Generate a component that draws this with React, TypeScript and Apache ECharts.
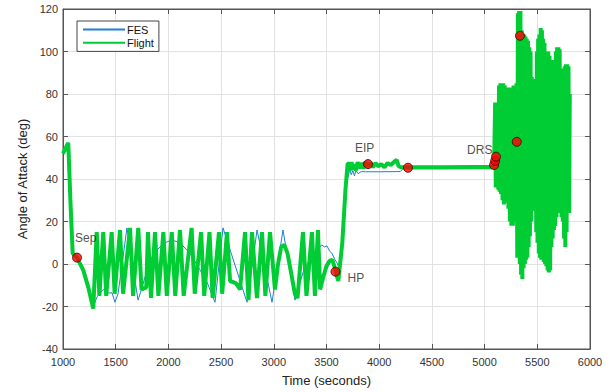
import React, { useEffect, useRef } from "react";
import * as echarts from "echarts";

const xTicks = { min: 1000, max: 6000, interval: 500 };
const yTicks = { min: -40, max: 120, interval: 20 };

const fesData: number[][] = [
  [1000, 52], [1050, 57], [1070, 30], [1092, 5], [1133, 3], [1193, -3], [1240, -11], [1287, -20],
  [1323, -15.5], [1380, -12], [1427, -13.6], [1465, -13.6], [1493, -18], [1522, -14], [1607, 17],
  [1712, -17], [1750, -11], [1797, -3], [1844, 3.3], [1873, 5.6], [1920, 8], [1968, 10], [2034, 11.3],
  [2110, 10], [2205, 5], [2300, -2.8], [2366, -8.5], [2442, -18], [2518, 17], [2746, -18], [2841, 16],
  [2983, -18], [3087, 16], [3201, -17], [3277, -4], [3372, 5], [3457, 9], [3480, 8], [3505, 8.5],
  [3530, 6], [3552, 5], [3580, 2], [3600, 0.5], [3628, -3], [3660, 20], [3690, 44], [3705, 41],
  [3720, 44.5], [3735, 42], [3750, 44], [3765, 41.5], [3780, 44], [3800, 42.5], [3830, 43.5],
  [3870, 43.4], [4000, 43.4], [4200, 43.5], [4225, 44.8], [4600, 44.8], [5070, 44.8], [5090, 46], [5110, 48],
];

const flightData: number[][] = [
  [1000, 52], [1050, 57], [1070, 30], [1092, 5], [1133, 3], [1193, -3], [1240, -11], [1287, -21],
  [1320, 15], [1345, -15], [1382, 15], [1410, -15], [1462, 15], [1490, -14], [1541, 16], [1570, -14],
  [1636, 17], [1665, -15], [1714, 17], [1745, -12], [1790, -11], [1806, 15], [1835, -16], [1873, 15],
  [1905, -15], [1952, 15], [1985, -15], [2032, 15], [2065, -15], [2110, 16], [2145, -15], [2220, 17],
  [2250, -14], [2310, 15], [2340, -15], [2390, 15], [2420, -16], [2480, 15], [2510, -14], [2556, 15],
  [2585, -8], [2640, -9], [2680, -12], [2727, 15], [2760, -17], [2793, 15], [2840, -16], [2888, 15],
  [2920, -15], [2964, 15], [3011, -12], [3040, 0], [3070, 8], [3100, 9], [3130, 5], [3160, -3],
  [3200, -14], [3225, -16], [3277, 15], [3310, -15], [3362, 15], [3390, -15], [3419, 16], [3440, -12],
  [3470, -6], [3500, -1], [3530, 1.5], [3555, 2], [3580, -2], [3600, -6], [3612, -8], [3650, 10],
  [3680, 35], [3700, 47], [3715, 47.5], [3725, 44], [3738, 48], [3750, 44.5], [3765, 47], [3780, 44],
  [3795, 48], [3810, 45], [3830, 47.5], [3850, 45], [3870, 48], [3890, 46], [3915, 47.5], [3940, 45.5],
  [3965, 47.5], [3990, 46], [4020, 47], [4050, 45.5], [4080, 47.5], [4110, 46.5], [4140, 48], [4165, 49],
  [4185, 46], [4210, 45.5], [4300, 45.5], [4600, 45.5], [4900, 45.6], [5070, 45.6], [5090, 46],
  [5095, 46], [5100, 76], [5106, 36], [5112, 76], [5118, 36], [5124, 75], [5130, 35], [5137, 84],
  [5143, 34], [5150, 85], [5156, 33], [5163, 85], [5170, 30], [5177, 85], [5184, 28], [5191, 84],
  [5198, 30], [5205, 83], [5212, 29], [5219, 83], [5226, 26], [5233, 83], [5240, 20], [5247, 83],
  [5254, 18], [5261, 83], [5268, 18], [5275, 84], [5282, 22], [5289, 84], [5296, 20], [5303, 85],
  [5310, 3], [5316, 118], [5322, 3], [5328, 119], [5334, 0], [5340, 119], [5346, -5], [5352, 110],
  [5358, -7], [5364, 108], [5370, -2], [5376, 108], [5382, 0], [5388, 107], [5394, 2], [5400, 106],
  [5406, 3], [5412, 105], [5418, 8], [5424, 102], [5430, 13], [5436, 100], [5442, 20], [5448, 88],
  [5454, 25], [5460, 87], [5466, 25], [5472, 87], [5478, 25], [5484, 87], [5490, 15], [5496, 100],
  [5502, 10], [5508, 106], [5514, 5], [5520, 108], [5526, 3], [5532, 111], [5538, 2], [5544, 110],
  [5550, 3], [5556, 106], [5562, 1], [5568, 104], [5574, 0], [5580, 100], [5586, -1], [5592, 100],
  [5598, -3], [5604, 100], [5610, -4], [5616, 98], [5622, -3], [5628, 96], [5634, 8], [5640, 96],
  [5646, 12], [5652, 96], [5658, 16], [5664, 95], [5670, 18], [5676, 100], [5682, 22], [5688, 102],
  [5694, 24], [5700, 102], [5706, 24], [5712, 101], [5718, 24], [5724, 92], [5730, 22], [5736, 91],
  [5742, 20], [5748, 90], [5754, 12], [5760, 93], [5766, 8], [5772, 94], [5778, 15], [5784, 94],
  [5790, 24], [5796, 93], [5802, 24], [5808, 80],
];

const eventPoints: number[][] = [
  [1133, 3], [3585, -3.6], [3894, 47], [4273, 45.3], [5090, 46.6], [5100, 48.5], [5108, 50.5],
  [5305, 57.5], [5336, 107.4],
];
const eventNames: string[] = ["Sep", "HP", "EIP", "", "DRS", "", "", "", ""];
const labelOffsets: number[][] = [
  [-2, -20], [12, 6], [-13, -16], [0, 0], [-27, -15], [0, 0], [0, 0], [0, 0], [0, 0],
];

const axisColor = "#555";
const textColor = "#333";
const font = "Liberation Sans, Arial, Helvetica, sans-serif";

export default function App() {
  const ref = useRef<HTMLDivElement>(null);
  useEffect(() => {
    if (!ref.current) return;
    const chart = echarts.init(ref.current, undefined, { renderer: "svg" });
    const baseX = {
      type: "value" as const,
      min: xTicks.min,
      max: xTicks.max,
      interval: xTicks.interval,
    };
    const baseY = {
      type: "value" as const,
      min: yTicks.min,
      max: yTicks.max,
      interval: yTicks.interval,
    };
    const line = { show: true, onZero: false, lineStyle: { color: axisColor } };
    const tick = { show: true, inside: true, length: 5, lineStyle: { color: axisColor } };
    chart.setOption({
      animation: false,
      backgroundColor: "#fff",
      textStyle: { fontFamily: font },
      grid: {
        left: 63, right: 21, top: 9, bottom: 43,
        show: true, borderColor: axisColor, borderWidth: 1, backgroundColor: "transparent",
      },
      legend: {
        data: ["FES", "Flight"],
        orient: "vertical",
        left: 77,
        top: 21,
        padding: [3, 5, 3, 5],
        itemGap: 2,
        itemWidth: 42,
        itemHeight: 14,
        borderColor: "#444",
        borderWidth: 1,
        backgroundColor: "#fff",
        selectedMode: false,
        itemStyle: { color: "transparent", borderColor: "transparent", borderWidth: 0, opacity: 0 },
        lineStyle: { opacity: 1 },
        textStyle: { fontSize: 11, color: "#111", fontFamily: font, padding: [0, 0, 0, -3] },
      },
      xAxis: [
        {
          ...baseX,
          position: "bottom",
          name: "Time (seconds)",
          nameLocation: "middle",
          nameGap: 25,
          nameTextStyle: { fontSize: 13, color: "#222", fontFamily: font },
          axisLine: line,
          axisTick: tick,
          axisLabel: {
            fontSize: 11, color: textColor, margin: 7, fontFamily: font,
            formatter: (v: number) => String(v),
          },
          splitLine: { show: true, lineStyle: { color: "#e2e2e2", width: 1 } },
        },
        {
          ...baseX,
          position: "top",
          axisLine: line,
          axisTick: tick,
          axisLabel: { show: false },
          splitLine: { show: false },
        },
      ],
      yAxis: [
        {
          ...baseY,
          position: "left",
          name: "Angle of Attack (deg)",
          nameLocation: "middle",
          nameGap: 31,
          nameTextStyle: { fontSize: 13, color: "#222", fontFamily: font },
          axisLine: line,
          axisTick: tick,
          axisLabel: {
            fontSize: 11, color: textColor, margin: 5, fontFamily: font,
            formatter: (v: number) => String(v),
          },
          splitLine: { show: true, lineStyle: { color: "#e2e2e2", width: 1 } },
        },
        {
          ...baseY,
          position: "right",
          axisLine: line,
          axisTick: tick,
          axisLabel: { show: false },
          splitLine: { show: false },
        },
      ],
      series: [
        {
          name: "FES",
          type: "line",
          xAxisIndex: 0,
          yAxisIndex: 0,
          data: fesData,
          symbol: "none",
          lineStyle: { color: "#1f7fd4", width: 1 },
          itemStyle: { color: "#1f7fd4" },
          z: 2,
        },
        {
          name: "Flight",
          type: "line",
          xAxisIndex: 0,
          yAxisIndex: 0,
          data: flightData,
          symbol: "none",
          lineStyle: { color: "#00cc33", width: 4 },
          itemStyle: { color: "#00cc33" },
          z: 3,
        },
        {
          name: "Events",
          type: "scatter",
          xAxisIndex: 0,
          yAxisIndex: 0,
          symbolSize: 9,
          itemStyle: { color: "#ff0000", borderColor: "#3a0000", borderWidth: 1 },
          z: 5,
          data: eventPoints.map((p, i) => ({
            value: p,
            label: {
              show: eventNames[i] !== "",
              formatter: eventNames[i],
              position: "inside",
              offset: labelOffsets[i],
              align: "left",
              verticalAlign: "middle",
              fontSize: 12,
              color: "#222",
              fontFamily: font,
            },
          })),
        },
      ],
    });
    return () => chart.dispose();
  }, []);
  return <div ref={ref} style={{ width: 611, height: 392, position: "absolute", left: 0, top: 0 }} />;
}
